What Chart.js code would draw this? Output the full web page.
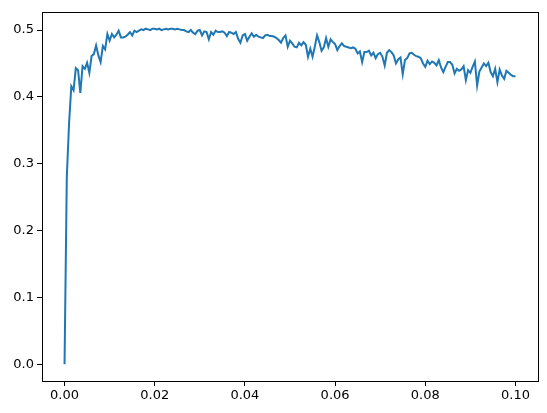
<!DOCTYPE html>
<html lang="en">
<head>
    <meta charset="UTF-8">
    <title>Line plot</title>
    <script src="https://cdn.jsdelivr.net/npm/chart.js"></script>
    <style>
        body {
            margin: 0;
            background: #fff;
        }
        #chart {
            display: block;
        }
    </style>
</head>
<body>
    <canvas id="chart" width="547" height="413"></canvas>

    <script>
        // sample spacing along x (201 samples from 0 to 0.1)
        const xStep = 0.0005;

        const yValues = [
            0.0, 0.28, 0.36, 0.416, 0.41, 0.443, 0.44, 0.406, 0.446, 0.442,
            0.451, 0.436, 0.461, 0.464, 0.477, 0.462, 0.452, 0.476, 0.471, 0.494,
            0.484, 0.494, 0.489, 0.493, 0.499, 0.489, 0.489, 0.490, 0.493, 0.497,
            0.492, 0.499, 0.497, 0.499, 0.501, 0.500, 0.502, 0.501, 0.500, 0.502,
            0.502, 0.501, 0.502, 0.500, 0.501, 0.502, 0.501, 0.502, 0.502, 0.501,
            0.502, 0.501, 0.500, 0.500, 0.498, 0.497, 0.500, 0.496, 0.494, 0.499,
            0.500, 0.492, 0.498, 0.497, 0.486, 0.497, 0.493, 0.499, 0.497, 0.497,
            0.498, 0.496, 0.491, 0.497, 0.496, 0.494, 0.497, 0.487, 0.481, 0.492,
            0.494, 0.484, 0.490, 0.495, 0.490, 0.493, 0.490, 0.489, 0.488, 0.492,
            0.493, 0.491, 0.491, 0.490, 0.488, 0.485, 0.481, 0.488, 0.492, 0.475,
            0.484, 0.480, 0.475, 0.474, 0.481, 0.477, 0.482, 0.478, 0.460, 0.472,
            0.460, 0.475, 0.492, 0.482, 0.469, 0.474, 0.488, 0.475, 0.486, 0.482,
            0.479, 0.470, 0.476, 0.480, 0.476, 0.475, 0.474, 0.473, 0.474, 0.472,
            0.465, 0.468, 0.452, 0.467, 0.467, 0.469, 0.462, 0.466, 0.458, 0.464,
            0.466, 0.460, 0.447, 0.466, 0.470, 0.467, 0.462, 0.450, 0.456, 0.459,
            0.434, 0.455, 0.458, 0.465, 0.466, 0.463, 0.461, 0.460, 0.458, 0.450,
            0.445, 0.454, 0.449, 0.453, 0.451, 0.447, 0.455, 0.444, 0.437, 0.445,
            0.452, 0.452, 0.448, 0.435, 0.442, 0.439, 0.441, 0.446, 0.425, 0.440,
            0.436, 0.445, 0.453, 0.417, 0.438, 0.444, 0.450, 0.446, 0.451, 0.437,
            0.431, 0.442, 0.422, 0.441, 0.432, 0.427, 0.439, 0.436, 0.433, 0.431,
            0.431
        ];

        const xTicks = [0, 0.02, 0.04, 0.06, 0.08, 0.10];
        const yTicks = [0.0, 0.1, 0.2, 0.3, 0.4, 0.5];

        const points = yValues.map((y, i) => ({ x: i * xStep, y: y }));

        // matplotlib-like frame around the plot area
        const frame = {
            id: 'frame',
            afterDraw(chart) {
                const a = chart.chartArea;
                const ctx = chart.ctx;
                ctx.save();
                ctx.strokeStyle = '#000';
                ctx.lineWidth = 1;
                ctx.strokeRect(Math.round(a.left) + 0.5, Math.round(a.top) + 0.5,
                    Math.round(a.right - a.left), Math.round(a.bottom - a.top));
                ctx.restore();
            }
        };

        const tickFont = { family: 'DejaVu Sans', size: 13 };

        new Chart(document.getElementById('chart'), {
            type: 'line',
            data: {
                datasets: [{
                    data: points,
                    borderColor: '#1f77b4',
                    borderWidth: 2,
                    pointRadius: 0,
                    tension: 0,
                    fill: false
                }]
            },
            options: {
                responsive: false,
                devicePixelRatio: 1,
                animation: false,
                layout: { padding: { top: 12, right: 9, left: 0, bottom: 0 } },
                plugins: {
                    legend: { display: false },
                    tooltip: { enabled: false }
                },
                scales: {
                    x: {
                        type: 'linear',
                        min: -0.005,
                        max: 0.105,
                        afterBuildTicks: s => { s.ticks = xTicks.map(v => ({ value: v })); },
                        afterFit: s => { s.height = 32; },
                        ticks: {
                            color: '#000',
                            font: tickFont,
                            padding: 2,
                            maxRotation: 0,
                            callback: v => v.toFixed(2)
                        },
                        grid: {
                            drawOnChartArea: false,
                            drawTicks: true,
                            tickLength: 5,
                            color: '#000'
                        },
                        border: { display: false }
                    },
                    y: {
                        min: -0.0252,
                        max: 0.527,
                        afterBuildTicks: s => { s.ticks = yTicks.map(v => ({ value: v })); },
                        afterFit: s => { s.width = 42; },
                        ticks: {
                            color: '#000',
                            font: tickFont,
                            padding: 3,
                            callback: v => v.toFixed(1)
                        },
                        grid: {
                            drawOnChartArea: false,
                            drawTicks: true,
                            tickLength: 5,
                            color: '#000'
                        },
                        border: { display: false }
                    }
                }
            },
            plugins: [frame]
        });
    </script>
</body>
</html>
